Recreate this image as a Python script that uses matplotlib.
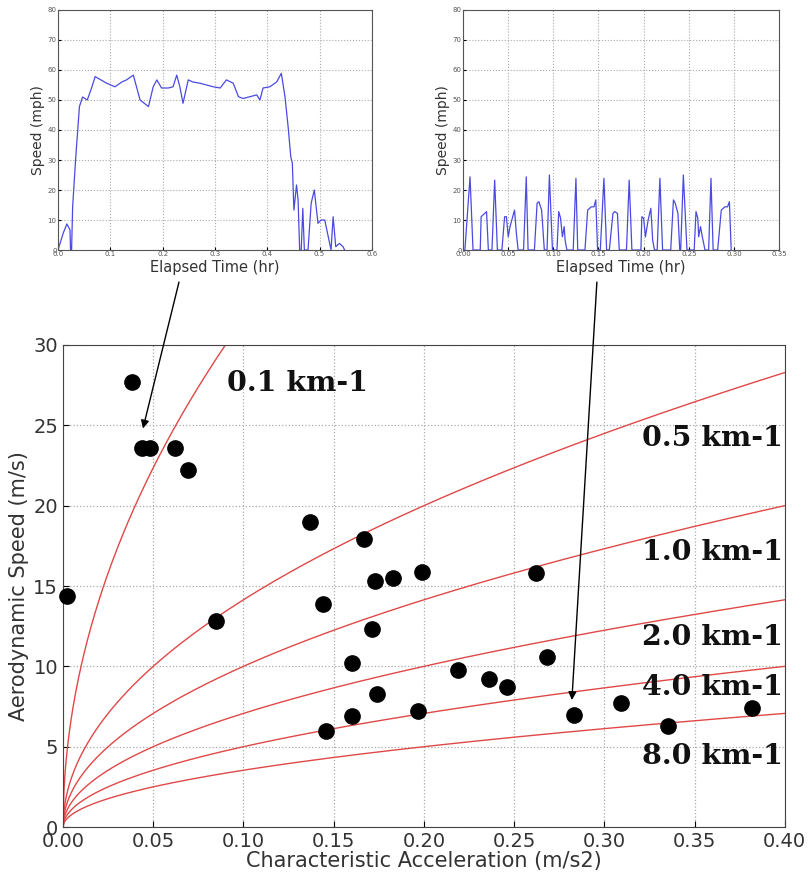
import numpy as np
import matplotlib
matplotlib.use("Agg")
import matplotlib.pyplot as plt

# main scatter: characteristic acceleration (m/s2) vs aerodynamic speed (m/s)
accel = [0.002, 0.038, 0.044, 0.048, 0.062, 0.069, 0.137, 0.167, 0.173, 0.183,
         0.199, 0.262, 0.144, 0.085, 0.171, 0.160, 0.219, 0.236, 0.246, 0.268,
         0.174, 0.197, 0.160, 0.146, 0.283, 0.309, 0.335, 0.382]
speed = [14.4, 27.7, 23.6, 23.6, 23.6, 22.2, 19.0, 17.9, 15.3, 15.5,
         15.9, 15.8, 13.9, 12.8, 12.3, 10.2, 9.8, 9.2, 8.7, 10.6,
         8.3, 7.2, 6.9, 6.0, 7.0, 7.7, 6.3, 7.4]

# curvature lines (km-1) and label positions
curv = [0.1, 0.5, 1.0, 2.0, 4.0, 8.0]
curv_labels = ["0.1 km-1", "0.5 km-1", "1.0 km-1", "2.0 km-1", "4.0 km-1", "8.0 km-1"]
label_x = [0.13, 0.399, 0.399, 0.399, 0.399, 0.399]
label_y = [27.6, 24.2, 17.1, 11.8, 8.7, 4.4]

# inset 1: highway-like trip
t1 = [0.0, 0.010, 0.017, 0.023, 0.024, 0.026, 0.028, 0.034, 0.041, 0.047,
      0.056, 0.064, 0.071, 0.080, 0.093, 0.109, 0.122, 0.131, 0.144, 0.157,
      0.173, 0.182, 0.189, 0.198, 0.211, 0.220, 0.227, 0.233, 0.239, 0.249,
      0.258, 0.271, 0.284, 0.297, 0.310, 0.322, 0.335, 0.345, 0.354, 0.367,
      0.380, 0.386, 0.392, 0.405, 0.418, 0.427, 0.434, 0.440, 0.445, 0.448,
      0.451, 0.456, 0.459, 0.462, 0.465, 0.468, 0.471, 0.478, 0.484, 0.490,
      0.497, 0.503, 0.510, 0.522, 0.526, 0.531, 0.538, 0.545, 0.548]
v1 = [0, 5.6, 8.7, 6.7, 0, 0, 14.4, 31, 47.8, 51,
      50, 53.9, 57.8, 56.9, 55.6, 54.4, 56, 56.7, 58.3, 50,
      47.8, 54.4, 56.7, 54, 54, 54.4, 58.3, 54.4, 48.9, 56.7,
      56, 55.6, 55, 54.4, 54, 56.7, 55.6, 51.1, 50.5, 51.1,
      51.7, 50, 54, 54.4, 56, 58.9, 51, 41, 31.1, 28.9,
      13.3, 21.7, 16.7, 0, 0, 13.9, 0, 0, 15.6, 20,
      8.9, 10, 10, 0, 11.1, 1.1, 2.2, 1.1, 0]

# inset 2: stop-and-go trip
t2 = [0.002, 0.0077, 0.011, 0.019, 0.020, 0.024, 0.026, 0.028,
      0.032, 0.035, 0.038,
      0.043, 0.046, 0.048, 0.050, 0.052, 0.054, 0.057, 0.059, 0.061,
      0.067, 0.070, 0.072,
      0.079, 0.082, 0.084, 0.087, 0.090,
      0.093, 0.0956, 0.099,
      0.104, 0.106, 0.108, 0.110, 0.112, 0.113, 0.115,
      0.122, 0.125, 0.127,
      0.135, 0.138, 0.142, 0.145, 0.147, 0.149,
      0.152, 0.156, 0.159,
      0.162, 0.166, 0.168, 0.171, 0.173,
      0.181, 0.184, 0.187,
      0.197, 0.198, 0.200, 0.202, 0.205, 0.208, 0.210, 0.212,
      0.215, 0.218, 0.221,
      0.230, 0.233, 0.235, 0.238, 0.240,
      0.241, 0.244, 0.248,
      0.256, 0.258, 0.260, 0.261, 0.263, 0.265, 0.268,
      0.272, 0.2746, 0.277,
      0.282, 0.286, 0.290, 0.293, 0.295, 0.297]
v2 = [0, 24.4, 0, 0, 11.1, 12.2, 12.8, 0,
      0, 23.3, 0,
      0, 11.1, 11.1, 4.4, 7.8, 10, 13.3, 5.6, 0,
      0, 24.4, 0,
      0, 15.6, 16.1, 13.3, 0,
      0, 25, 0,
      0, 12.8, 10.6, 4.4, 7.8, 3.3, 0,
      0, 23.9, 0,
      0, 13.3, 14.4, 14.4, 16.7, 0,
      0, 23.9, 0,
      0, 12.2, 12.8, 12.2, 0,
      0, 23.3, 0,
      0, 11.1, 10.6, 4.4, 10, 13.9, 3.3, 0,
      0, 23.9, 0,
      0, 16.7, 15.6, 12.2, 0,
      0, 25, 0,
      0, 12.8, 10.6, 4.4, 7.8, 4.4, 0,
      0, 23.9, 0,
      0, 13.3, 14.4, 14.4, 16.1, 0]

fig = plt.figure(figsize=(8.11, 8.76), dpi=100)

# ---- main panel ----
ax = fig.add_axes([0.0777, 0.0559, 0.890, 0.5503])
a = np.linspace(0, 0.4, 800)
for k in curv:
    ax.plot(a, np.sqrt(a / (k * 1e-3)), color="#e04848", lw=1.0, zorder=2)
ax.plot(accel, speed, "o", color="black", ms=11, zorder=3, clip_on=False)
for lab, lx, ly in zip(curv_labels, label_x, label_y):
    ha = "center" if lx < 0.2 else "right"
    ax.text(lx, ly, lab, ha=ha, va="center", family="DejaVu Serif",
            fontweight="bold", fontsize=20.5, color="#111111", zorder=4)
ax.set_xlim(0, 0.4)
ax.set_ylim(0, 30)
ax.set_xticks(np.arange(0, 0.41, 0.05))
ax.set_xticklabels(["0.00", "0.05", "0.10", "0.15", "0.20", "0.25", "0.30", "0.35", "0.40"])
ax.set_yticks([0, 5, 10, 15, 20, 25, 30])
ax.grid(True, linestyle=":", color="#aaaaaa", lw=0.9)
ax.tick_params(labelsize=14, labelcolor="#333333", direction="in", length=4)
for s in ax.spines.values():
    s.set_color("#444444")
ax.set_xlabel("Characteristic Acceleration (m/s2)", fontsize=15, color="#333333", labelpad=0)
ax.set_ylabel("Aerodynamic Speed (m/s)", fontsize=15, color="#333333", labelpad=3)

# ---- insets ----
def inset(rect, t, v, xmax, xticks, xlabels):
    ia = fig.add_axes(rect)
    ia.plot(t, v, color="#4a4ae0", lw=0.9)
    ia.set_xlim(0, xmax)
    ia.set_ylim(0, 80)
    ia.set_xticks(xticks)
    ia.set_xticklabels(xlabels)
    ia.set_yticks(range(0, 81, 10))
    ia.grid(True, linestyle=":", color="#aaaaaa", lw=0.8)
    ia.tick_params(labelsize=5, labelcolor="#555555", direction="in", length=2, pad=1)
    for s in ia.spines.values():
        s.set_color("#555555")
    ia.set_xlabel("Elapsed Time (hr)", fontsize=10.5, color="#333333", labelpad=2)
    ia.set_ylabel("Speed (mph)", fontsize=10, color="#333333", labelpad=2)
    return ia

inset([0.0715, 0.7146, 0.387, 0.274], t1, v1, 0.6,
      [0, 0.1, 0.2, 0.3, 0.4, 0.5, 0.6], ["0.0", "0.1", "0.2", "0.3", "0.4", "0.5", "0.6"])
inset([0.571, 0.7146, 0.3896, 0.274], t2, v2, 0.35,
      [0, 0.05, 0.10, 0.15, 0.20, 0.25, 0.30, 0.35],
      ["0.00", "0.05", "0.10", "0.15", "0.20", "0.25", "0.30", "0.35"])

# arrows from the insets to their points
arrow = dict(arrowstyle="-|>", color="black", lw=1.0, mutation_scale=12, shrinkA=0, shrinkB=0)
ax.annotate("", xy=(0.0443, 24.8), xycoords="data", xytext=(0.2207, 0.678),
            textcoords="figure fraction", arrowprops=arrow, annotation_clip=False)
ax.annotate("", xy=(0.282, 7.9), xycoords="data", xytext=(0.736, 0.678),
            textcoords="figure fraction", arrowprops=arrow, annotation_clip=False)

fig.savefig("out.png", dpi=100)
